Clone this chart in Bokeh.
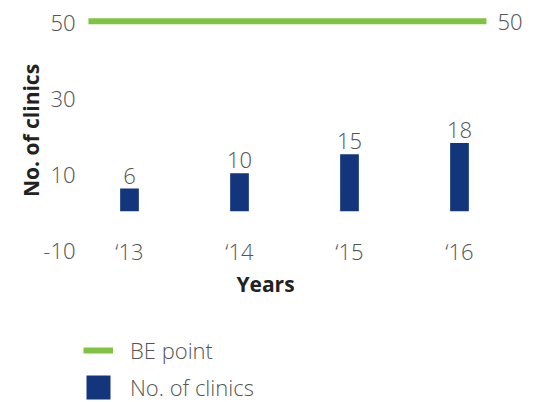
import math
from bokeh.plotting import figure
from bokeh.models import (ColumnDataSource, Range1d, Legend, LegendItem, LabelSet, Label)
from bokeh.core.properties import value
from bokeh.embed import file_html
from bokeh.resources import INLINE

# ---- data ----
years = ["\u201813", "\u201814", "\u201815", "\u201816"]
clinics = [6, 10, 15, 18]
be_point = 50
y_ticks = [-10, 10, 30, 50]
y_tick_labels = ["-10", "10", "30", "50"]

# ---- layout constants (pixels / data extents) ----
W, H = 533, 402
X_LO, X_HI = -1.1727, 3.6727      # visible x extent (110 px per category)
Y_LO, Y_HI = -50.3, 55.47         # visible y extent (3.8 px per unit)
LINE_PAD_L, LINE_PAD_R = 0.373, 0.245   # BE line overhang beyond first/last category

GREEN = "#80c342"
NAVY = "#12357c"
GREY = "#555555"
DARK = "#222222"
FONT = "Open Sans Light"
BOLD_FONT = "Open Sans"

xs = list(range(len(years)))
src = ColumnDataSource(dict(x=xs, v=clinics, lbl=[str(c) for c in clinics]))
xsrc = ColumnDataSource(dict(x=xs, y=[y_ticks[0]] * len(xs), t=years))
ysrc = ColumnDataSource(dict(y=y_ticks, t=y_tick_labels))
be_src = ColumnDataSource(dict(x=[xs[0] - LINE_PAD_L, xs[-1] + LINE_PAD_R],
                               y=[be_point, be_point]))

p = figure(width=W, height=H, output_backend="svg", toolbar_location=None,
           x_range=Range1d(X_LO, X_HI), y_range=Range1d(Y_LO, Y_HI),
           x_axis_location=None, y_axis_location=None,
           min_border=0)
p.outline_line_color = None
p.grid.visible = False
p.background_fill_color = "white"
p.border_fill_color = "white"

# BE line
be_r = p.line(x="x", y="y", source=be_src, line_color=GREEN, line_width=6)

bars = p.vbar(x="x", top="v", width=0.17, source=src, fill_color=NAVY, line_color=None)

# value labels above bars
p.add_layout(LabelSet(x="x", y="v", text="lbl", source=src, text_align="center",
                      text_baseline="bottom", y_offset=5, text_font=value(FONT),
                      text_font_size="22px", text_color=GREY))

# category labels along the bottom
p.add_layout(LabelSet(x="x", y="y", text="t", source=xsrc, text_align="center",
                      text_baseline="middle", y_offset=-2, text_font=value(FONT),
                      text_font_size="22px", text_color=GREY))

# y tick labels
p.add_layout(LabelSet(x=75, y="y", x_units="screen", text="t", source=ysrc,
                      text_align="right", text_baseline="middle", y_offset=-2,
                      text_font=value(FONT), text_font_size="22px", text_color=GREY))

# right-hand BE value label
p.add_layout(Label(x=497, y=be_point, x_units="screen", y_units="data", text=str(be_point),
                   text_align="left", text_baseline="middle", y_offset=-1,
                   text_font=FONT, text_font_size="22px", text_color=GREY))

# axis titles
p.add_layout(Label(x=265, y=119, x_units="screen", y_units="screen", text="Years",
                   text_align="center", text_baseline="middle", text_font=BOLD_FONT,
                   text_font_style="bold", text_font_size="21px", text_color=DARK))
p.add_layout(Label(x=30, y=272, x_units="screen", y_units="screen", text="No. of clinics",
                   angle=math.pi / 2, text_align="center", text_baseline="middle",
                   text_font=BOLD_FONT, text_font_style="bold",
                   text_font_size="21px", text_color=DARK))

legend = Legend(items=[LegendItem(label="BE point", renderers=[be_r]),
                       LegendItem(label="No. of clinics", renderers=[bars])],
                location=(83, 0), orientation="vertical",
                glyph_width=30, glyph_height=30, spacing=7, padding=0, margin=0,
                label_standoff=17, label_text_font=FONT, label_text_font_size="22px",
                label_text_color=GREY, border_line_color=None,
                background_fill_alpha=0)
p.add_layout(legend, "center")

open("out.html", "w").write(file_html(p, INLINE))
